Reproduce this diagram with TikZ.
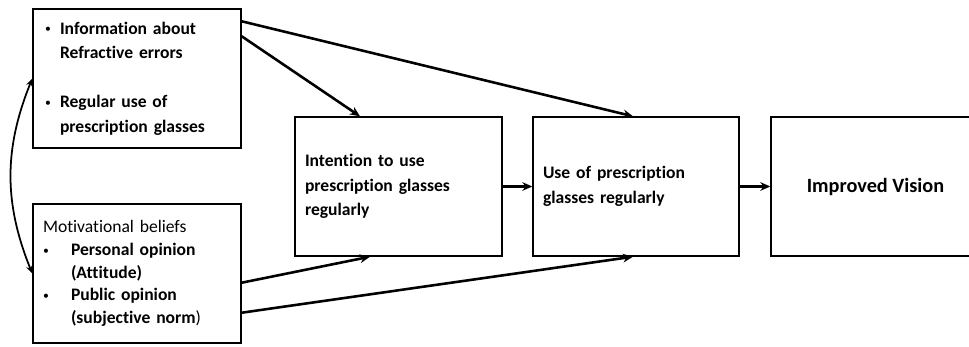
\documentclass[tikz,border=0pt]{standalone}
\usepackage{fontspec}
\setmainfont{Carlito}[Ligatures=NoCommon]
\usetikzlibrary{arrows.meta, positioning}

% small list bullet
\newcommand{\itemdot}{{\mdseries\fontsize{10}{10}\selectfont\raisebox{0.12em}{\textbullet}}}

\begin{document}
\begin{tikzpicture}[
    box/.style={draw, rectangle, line width=1.2pt, minimum height=4.17cm, inner xsep=0.3cm, align=left, font=\fontsize{15}{21}\selectfont\bfseries},
    link/.style={line width=2.2pt, -{Stealth[length=3mm, width=2.6mm]}}
]
    \clip (0,0) rectangle (29.07,10.38);

    % Left column
    \node[box, text width=5.64cm, minimum width=6.24cm] (info) at (4.11,8.025) {\makebox[0.51cm][l]{\hspace{0.06cm}\itemdot}Information about\\\hspace*{0.51cm}Refractive errors\\[0.72cm]\makebox[0.51cm][l]{\hspace{0.06cm}\itemdot}Regular use of\\\hspace*{0.51cm}prescription glasses};
    \node[box, text width=5.64cm, minimum width=6.24cm, font=\fontsize{15}{19.3}\selectfont\bfseries] (beliefs) at (4.11,2.175) {{\mdseries Motivational beliefs}\\\makebox[0.84cm][l]{\itemdot}Personal opinion\\\hspace*{0.84cm}(Attitude)\\\makebox[0.84cm][l]{\itemdot}Public opinion\\\hspace*{0.84cm}(subjective norm{\mdseries )}};

    % Middle and right
    \node[box, text width=5.61cm, minimum width=6.21cm] (intent) at (11.955,4.785) {Intention to use\\prescription glasses\\regularly};
    \node[box, text width=5.58cm, minimum width=6.18cm] (use) at (19.08,4.785) {Use of prescription\\glasses regularly};
    \node[box, align=center, minimum width=6.27cm, font=\fontsize{17.3}{21}\selectfont\bfseries] (vision) at (26.265,4.785) {Improved Vision};

    % Arrows
    \draw[link] ([yshift=-0.39cm]info.north east) -- ([xshift=-0.09cm]use.north);
    \draw[link] ([yshift=-0.84cm]info.north east) -- ([xshift=-1.155cm]intent.north);
    \draw[link] ([yshift=1.83cm]beliefs.south east) -- ([xshift=-0.855cm]intent.south);
    \draw[link] ([yshift=0.93cm]beliefs.south east) -- ([xshift=-0.09cm]use.south);
    \draw[link] (intent.east) -- (use.west);
    \draw[link] (use.east) -- (vision.west);
    \draw[line width=1.5pt, {Stealth[length=2.4mm, width=2mm]}-{Stealth[length=2.4mm, width=2mm]}] (info.west) to[bend right=22] (beliefs.west);

\end{tikzpicture}
\end{document}
